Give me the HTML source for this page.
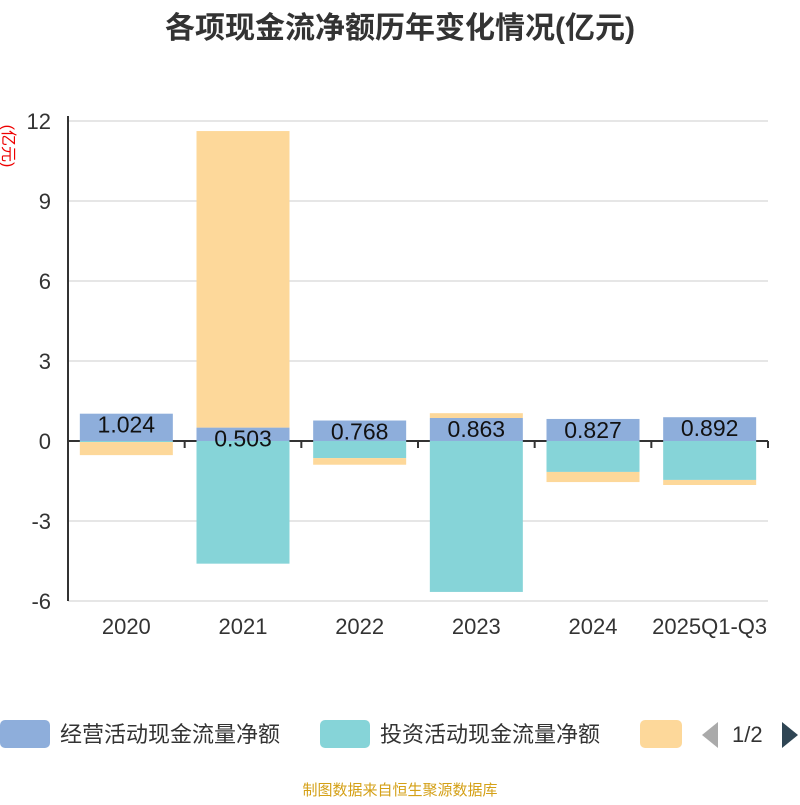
<!DOCTYPE html>
<html><head><meta charset="utf-8"><style>
body{margin:0;background:#fff;width:800px;height:800px;overflow:hidden;font-family:"Liberation Sans","Noto Sans CJK SC",sans-serif}
</style></head><body>
<svg id="chart" width="800" height="800" xmlns="http://www.w3.org/2000/svg">
<text x="400" y="38" text-anchor="middle" font-size="30" font-weight="bold" fill="#333" font-family="Liberation Sans,Noto Sans CJK SC,sans-serif">各项现金流净额历年变化情况(亿元)</text>
<text x="0" y="0" font-size="16" fill="#e00" text-anchor="middle" transform="translate(3,146) rotate(90)" font-family="Liberation Sans,Noto Sans CJK SC,sans-serif">(亿元)</text>
<g id="grid"></g><g id="bars"></g><g id="axes"></g>
<g font-family="Liberation Sans,Noto Sans CJK SC,sans-serif" font-size="22" fill="#333">
<rect x="0" y="720" width="50" height="28" rx="5" fill="#8eaedb"/>
<text x="60" y="742">经营活动现金流量净额</text>
<rect x="320" y="720" width="50" height="28" rx="5" fill="#86d4d8"/>
<text x="380" y="742">投资活动现金流量净额</text>
<rect x="640" y="720" width="42" height="28" rx="5" fill="#fdd89a"/>
<polygon points="718,722 718,748 702,735" fill="#aaa"/>
<text x="732" y="742">1/2</text>
<polygon points="782,722 782,748 798,735" fill="#2f4554"/>
</g>
<text x="400" y="795" text-anchor="middle" font-size="15" fill="#d4a017" font-family="Liberation Sans,Noto Sans CJK SC,sans-serif">制图数据来自恒生聚源数据库</text>
</svg>
<script>
const categories=["2020","2021","2022","2023","2024","2025Q1-Q3"];
const operating=[1.024,0.503,0.768,0.863,0.827,0.892];
const investing=[-0.04,-4.6,-0.64,-5.66,-1.16,-1.46];
const financing=[-0.49,11.12,-0.25,0.18,-0.38,-0.19];
const yTicks=[-6,-3,0,3,6,9,12];
const NS="http://www.w3.org/2000/svg";
const x0=68,x1=768,yMin=-6,yMax=12,py0=601,py1=121;
const y=v=>py0+(v-yMin)/(yMax-yMin)*(py1-py0);
const bw=(x1-x0)/categories.length;
function mk(tag,attrs,parent){const e=document.createElementNS(NS,tag);for(const k in attrs)e.setAttribute(k,attrs[k]);parent.appendChild(e);return e;}
const grid=document.getElementById('grid'),bars=document.getElementById('bars'),axes=document.getElementById('axes');
yTicks.forEach(t=>{
 const l=mk('line',{x1:x0,x2:x1,y1:y(t),y2:y(t),stroke:t===0?'#333':'#ccc','stroke-width':t===0?2:1},grid);
 
 
 const tx=mk('text',{x:51,y:y(t)+8,'text-anchor':'end','font-size':22,fill:'#333'},axes);
 tx.textContent=t;
 
 
});
const ax=mk('line',{x1:x0,x2:x0,y1:py1-5,y2:py0,stroke:'#333','stroke-width':2},axes);


categories.forEach((c,i)=>{
 const cx=x0+bw*(i+0.5),bx=cx-46.5,w=93;
 const tk=mk('line',{x1:x0+bw*(i+1),x2:x0+bw*(i+1),y1:y(0),y2:y(0)+7,stroke:'#333','stroke-width':2},axes);
 
 
 let pos=0,neg=0;
 [[operating,'#8eaedb','operating'],[investing,'#86d4d8','investing'],[financing,'#fdd89a','financing']].forEach(([arr,col,nm])=>{
  const v=arr[i];let a,b;
  if(v>=0){a=pos;b=pos+v;pos=b;}else{a=neg;b=neg+v;neg=b;}
  const r=mk('rect',{x:bx,width:w,y:Math.min(y(a),y(b)),height:Math.abs(y(a)-y(b)),fill:col},bars);
  
  
 });
 const lb=mk('text',{x:cx,y:y(operating[i])+19,'text-anchor':'middle','font-size':23,fill:'#111'},axes);
 lb.textContent=operating[i];
 
 
 const xl=mk('text',{x:cx,y:634,'text-anchor':'middle','font-size':22,fill:'#333'},axes);
 xl.textContent=c;
 
 
});
</script>
</body></html>
